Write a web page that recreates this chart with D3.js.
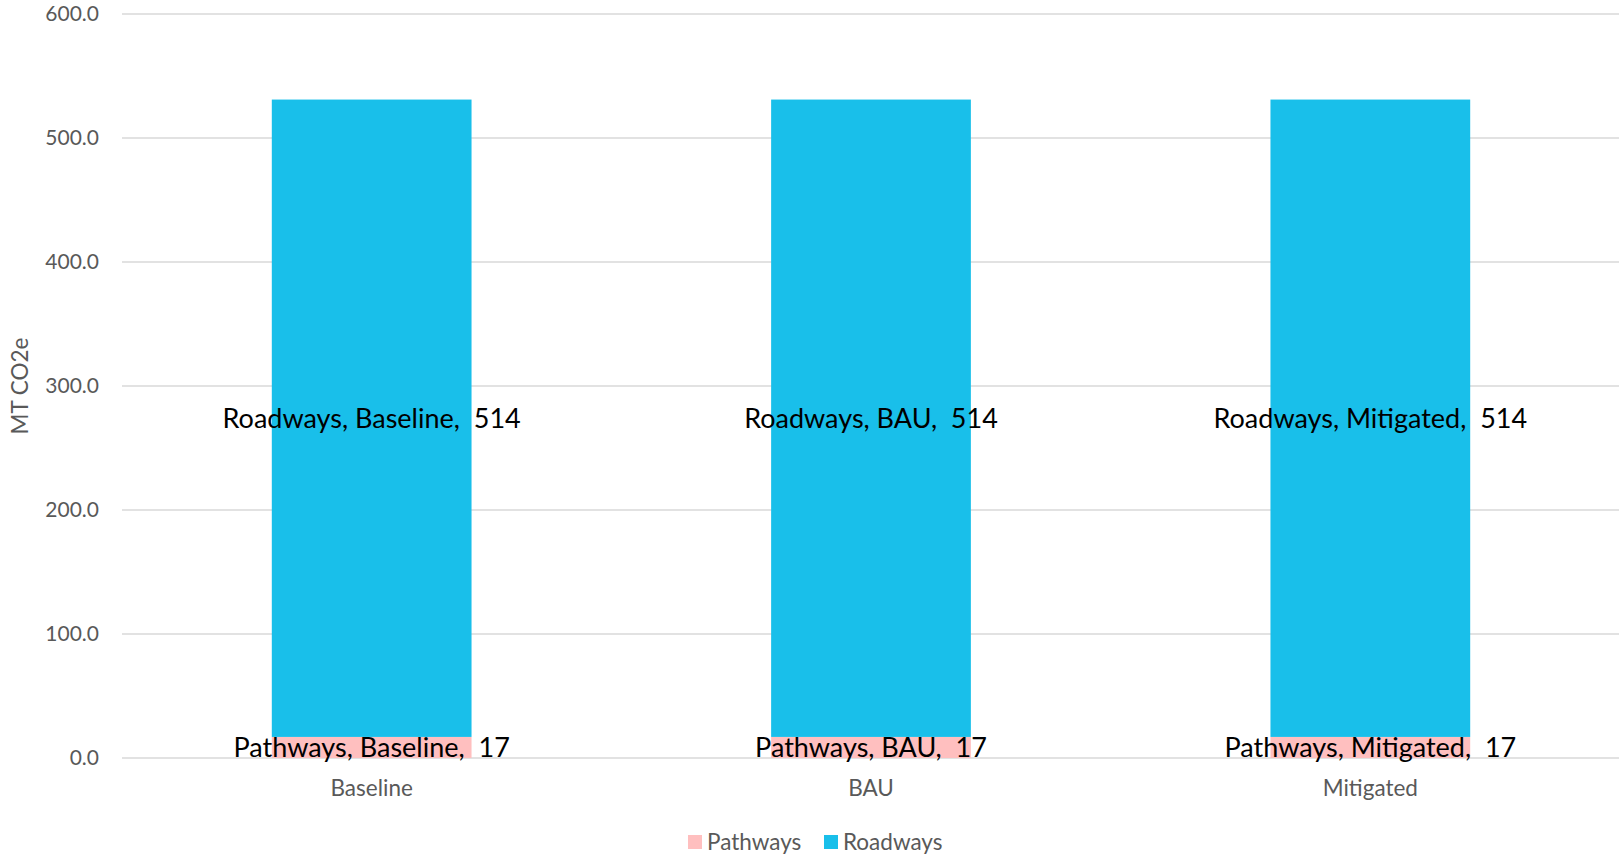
<!DOCTYPE html>
<html>
<head>
<meta charset="utf-8">
<script src="https://cdn.jsdelivr.net/npm/d3@7"></script>
<style>
  html, body { margin: 0; padding: 0; background: #ffffff; }
  svg { display: block; }
  text { font-family: Lato, "Open Sans", sans-serif; }
</style>
</head>
<body>
<svg id="chart" width="1619" height="856"></svg>
<script>
// Emissions by scenario, stacked by source (MT CO2e)
const scenarios = ["Baseline", "BAU", "Mitigated"];
const seriesNames = ["Pathways", "Roadways"];
const pathways = [17, 17, 17];
const roadways = [514, 514, 514];
const yTicks = [0, 100, 200, 300, 400, 500, 600];
const colors = ["#FFBFBF", "#19BFEA"];
const yTitle = "MT CO2e";

const W = 1619, H = 856;
const margin = { left: 122, right: 0, top: 14, bottom: 98 };
const svg = d3.select("#chart");

const x = d3.scaleBand()
  .domain(scenarios)
  .range([margin.left, W - margin.right + 1])
  .paddingInner(0.6)
  .paddingOuter(0.3);

const y = d3.scaleLinear()
  .domain([0, 600])
  .range([H - margin.bottom, margin.top]);

// Horizontal gridlines
svg.append("g")
  .selectAll("line")
  .data(yTicks)
  .join("line")
  .attr("x1", margin.left)
  .attr("x2", W)
  .attr("y1", d => y(d))
  .attr("y2", d => y(d))
  .attr("stroke", "#d9d9d9")
  .attr("stroke-width", 1.5);

// Y axis tick labels
svg.append("g")
  .selectAll("text")
  .data(yTicks)
  .join("text")
  .attr("x", 99)
  .attr("y", d => y(d))
  .attr("dy", "0.35em")
  .attr("text-anchor", "end")
  .attr("fill", "#595959")
  .attr("font-size", 21)
  .text(d => d.toFixed(1));

// Y axis title
svg.append("text")
  .attr("transform", `translate(28,${(y(0) + y(600)) / 2}) rotate(-90)`)
  .attr("text-anchor", "middle")
  .attr("fill", "#595959")
  .attr("font-size", 22.5)
  .text(yTitle);

// Stack the two series
const rows = scenarios.map((s, i) => ({ scenario: s, Pathways: pathways[i], Roadways: roadways[i] }));
const stacked = d3.stack().keys(seriesNames)(rows);

const layers = svg.append("g")
  .selectAll("g")
  .data(stacked)
  .join("g")
  .attr("fill", (d, i) => colors[i]);

layers.selectAll("rect")
  .data(d => d)
  .join("rect")
  .attr("x", d => x(d.data.scenario))
  .attr("width", x.bandwidth())
  .attr("y", d => y(d[1]))
  .attr("height", d => y(d[0]) - y(d[1]));

// Data labels: "Series, Category,  value"
const labelLayer = svg.append("g");
stacked.forEach(layer => {
  layer.forEach(d => {
    const v = d[1] - d[0];
    labelLayer.append("text")
      .attr("x", x(d.data.scenario) + x.bandwidth() / 2)
      .attr("y", (y(d[0]) + y(d[1])) / 2)
      .attr("dy", "0.36em")
      .attr("text-anchor", "middle")
      .attr("fill", "#000000")
      .attr("font-size", 27)
      .style("white-space", "pre")
      .text(`${layer.key}, ${d.data.scenario},  ${v}`);
  });
});

// Category labels
svg.append("g")
  .selectAll("text")
  .data(scenarios)
  .join("text")
  .attr("x", d => x(d) + x.bandwidth() / 2)
  .attr("y", 788)
  .attr("dy", "0.35em")
  .attr("text-anchor", "middle")
  .attr("fill", "#595959")
  .attr("font-size", 22.5)
  .text(d => d);

// Legend
const legendItems = [
  { name: seriesNames[0], color: colors[0], x: 688 },
  { name: seriesNames[1], color: colors[1], x: 824 }
];
const legend = svg.append("g");
legendItems.forEach(it => {
  legend.append("rect")
    .attr("x", it.x).attr("y", 835)
    .attr("width", 14).attr("height", 14)
    .attr("fill", it.color);
  legend.append("text")
    .attr("x", it.x + 19).attr("y", 842)
    .attr("dy", "0.35em")
    .attr("fill", "#595959")
    .attr("font-size", 22.5)
    .text(it.name);
});
</script>
</body>
</html>
